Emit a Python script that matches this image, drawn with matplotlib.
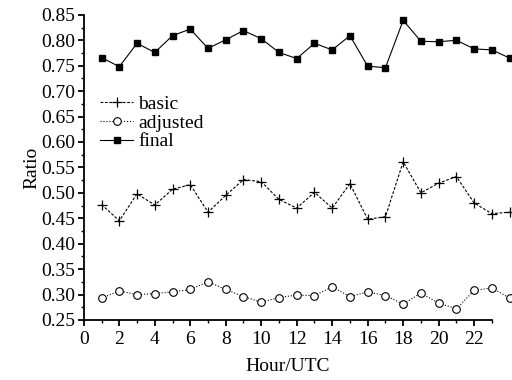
import numpy as np
import matplotlib
matplotlib.use("Agg")
import matplotlib.pyplot as plt
from matplotlib.ticker import MultipleLocator

plt.rcParams['font.family'] = ['Liberation Serif', 'DejaVu Serif']

# hours 1..24 (the last point lies past the axis end, as in the original)
hours = list(range(1, 25))
basic = [0.477, 0.445, 0.498, 0.476, 0.507, 0.516, 0.462, 0.495, 0.526, 0.522,
         0.487, 0.470, 0.501, 0.470, 0.518, 0.448, 0.453, 0.561, 0.500, 0.519,
         0.532, 0.480, 0.459, 0.462]
adjusted = [0.293, 0.307, 0.300, 0.302, 0.305, 0.310, 0.325, 0.310, 0.296, 0.285,
            0.294, 0.299, 0.298, 0.315, 0.296, 0.305, 0.298, 0.281, 0.303, 0.283,
            0.272, 0.308, 0.313, 0.293]
final = [0.766, 0.748, 0.794, 0.776, 0.809, 0.822, 0.784, 0.801, 0.819, 0.803,
         0.776, 0.764, 0.794, 0.781, 0.809, 0.749, 0.746, 0.839, 0.798, 0.797,
         0.800, 0.783, 0.781, 0.765]

fig = plt.figure(figsize=(5.12, 3.8), dpi=100)
ax = fig.add_axes([0.1637, 0.158, 0.797, 0.803])

ax.plot(hours, basic, color='black', lw=0.8, ls=(0, (2.5, 1.5)), marker='+',
        ms=7, mew=0.9, label='basic', clip_on=False)
ax.plot(hours, adjusted, color='black', lw=0.8, ls=':', marker='o', ms=5.5,
        mfc='white', mew=0.8, label='adjusted', clip_on=False)
ax.plot(hours, final, color='black', lw=0.8, ls='-', marker='s', ms=5,
        label='final', clip_on=False)

ax.set_xlim(0, 23)
ax.set_ylim(0.25, 0.85)
ax.xaxis.set_major_locator(MultipleLocator(2))
ax.xaxis.set_minor_locator(MultipleLocator(1))
ax.yaxis.set_major_locator(MultipleLocator(0.05))
ax.yaxis.set_minor_locator(MultipleLocator(0.025))
ax.yaxis.set_major_formatter(matplotlib.ticker.FormatStrFormatter('%.2f'))

for s in ['top', 'right']:
    ax.spines[s].set_visible(False)
for s in ['left', 'bottom']:
    ax.spines[s].set_linewidth(1.3)

ax.tick_params(which='major', direction='out', length=4, width=1.3,
               labelsize=14, pad=2)
ax.tick_params(axis='x', which='major', pad=4)
ax.tick_params(which='minor', direction='out', length=2.5, width=1.0)

ax.set_xlabel('Hour/UTC', fontsize=14, labelpad=7)
ax.set_ylabel('Ratio', fontsize=14, labelpad=1)

ax.legend(loc='upper left', bbox_to_anchor=(0.04, 0.735), frameon=False,
          fontsize=14, handlelength=1.7, handletextpad=0.25, labelspacing=0.05,
          borderpad=0, borderaxespad=0)

fig.savefig('out.png', dpi=100)
